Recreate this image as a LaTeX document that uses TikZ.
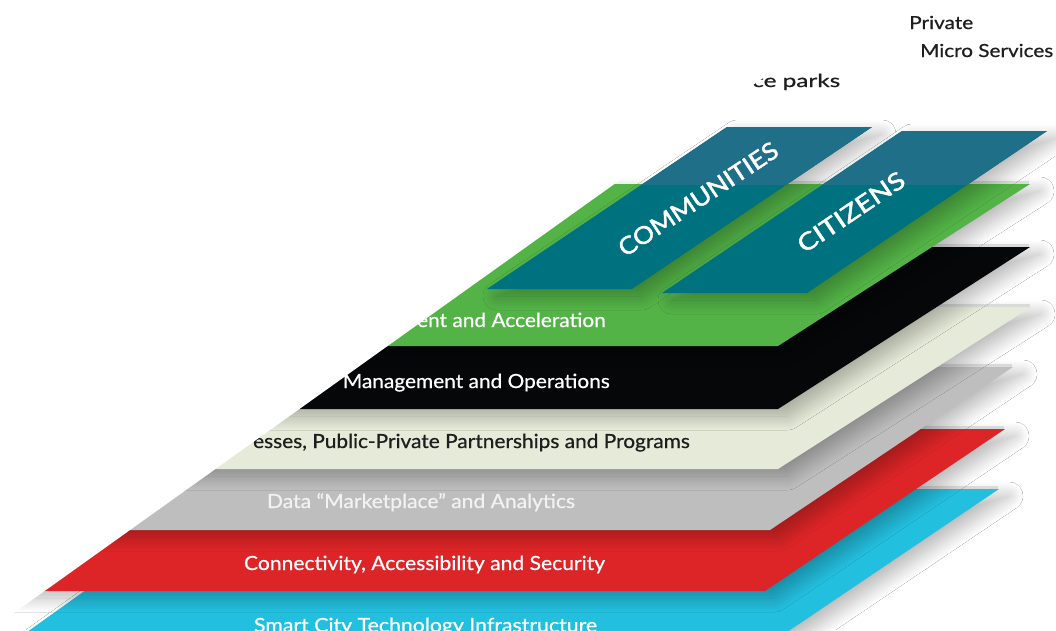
\documentclass[tikz,border=0pt]{standalone}
\usepackage{fontspec}
\usepackage{graphicx}
\setmainfont{Lato}
\newfontfamily\medfont{Lato}[FakeBold=0.6]
\newfontfamily\semifont{Lato}[FakeBold=1.8]
\usetikzlibrary{shadows.blur}
\definecolor{cyanL}{HTML}{23BFDF}
\definecolor{redL}{HTML}{DD2527}
\definecolor{greyL}{HTML}{BEBEBE}
\definecolor{beigeL}{HTML}{E6EAD8}
\definecolor{blackL}{HTML}{060708}
\definecolor{greenL}{HTML}{53B347}
\definecolor{tealA}{HTML}{00717F}
\definecolor{tealB}{HTML}{1E6F87}
\definecolor{inkL}{HTML}{1E1E1E}
\definecolor{rimL}{HTML}{DADADA}
\newcommand\fitw[2]{\resizebox{#1}{\height}{#2}}
\tikzset{
  slab/.style={fill=#1, blur shadow={shadow xshift=10pt, shadow yshift=-7pt, shadow blur radius=14pt, shadow blur steps=20, shadow opacity=28}},
  rimline/.style={draw=rimL, line width=3pt},
  lbl/.style={text=white, font=\medfont\fontsize{19.5}{22}\selectfont, inner sep=0pt},
  plbl/.style={text=white, font=\semifont\fontsize{24}{28}\selectfont, inner sep=0pt},
  toplbl/.style={text=inkL, font=\medfont\fontsize{18}{21}\selectfont, inner sep=0pt, anchor=base west},
}
\begin{document}
\begin{tikzpicture}[x=1pt,y=-1pt]
\useasboundingbox (0,0) rectangle (1056,630);
\fill[white] (0,0) rectangle (1056,630);
% layers, bottom first
\path[slab=cyanL] (227,489) -- (999,489) -- (759,651) -- (0.6,651) -- cycle;
\draw[rimline] (760,487.5) -- (998,487.5);
\path[slab=redL] (105,429) -- (1005,429) -- (765,591) -- (-135,591) -- cycle;
\draw[rimline] (765,427.5) -- (1004,427.5);
\path[slab=greyL] (113,367) -- (1013,367) -- (770,530) -- (-130,530) -- cycle;
\draw[rimline] (775,365.5) -- (1012,365.5);
\path[slab=beigeL] (131,307) -- (1031,307) -- (778,469) -- (-122,469) -- cycle;
\draw[rimline] (780,305.5) -- (1030,305.5);
\path[slab=blackL] (130,247) -- (1030,247) -- (778,409) -- (-122,409) -- cycle;
\draw[rimline] (780,245.5) -- (1029,245.5);
\path[slab=greenL] (130,184) -- (1030,184) -- (778,346) -- (-122,346) -- cycle;
\draw[rimline] (790,182.5) -- (1029,182.5);
% layer labels
\node[lbl, anchor=base east] (tgreen) at (606,327) {\scalebox{1.07}[1]{ent and Acceleration}};
\node[lbl, anchor=base east] (tblack) at (610,388) {\scalebox{1.07}[1]{Management and Operations}};
\node[lbl, anchor=base east, text=inkL] (tbeige) at (690,448) {\scalebox{1.07}[1]{esses, Public-Private Partnerships and Programs}};
\node[lbl, anchor=base, text=white!95!black] (tgrey) at (421,508) {\fitw{308pt}{Data “Marketplace” and Analytics}};
\node[lbl, anchor=base] (tred) at (424.5,570) {\fitw{361pt}{Connectivity, Accessibility and Security}};
\node[lbl, anchor=base] (tcyan) at (425.5,632) {\fitw{343pt}{Smart City Technology Infrastructure}};
% top panels
\path[slab=tealA] (727,127) -- (872,127) -- (632,289) -- (487,289) -- cycle;
\path[slab=tealA] (902,131) -- (1047,131) -- (807,293) -- (662,293) -- cycle;
\begin{scope}
  \clip (0,0) rectangle (1056,184);
  \fill[tealB] (727,127) -- (872,127) -- (632,289) -- (487,289) -- cycle;
  \fill[tealB] (902,131) -- (1047,131) -- (807,293) -- (662,293) -- cycle;
\end{scope}
\node[plbl, rotate=33.5] (tcomm) at (698,199) {\fitw{186pt}{COMMUNITIES}};
\node[plbl, rotate=34] (tcit) at (851,212) {\fitw{124pt}{CITIZENS}};
% top right texts
\node[toplbl] (tpriv) at (909,29) {\fitw{64pt}{Private}};
\node[toplbl] (tmicro) at (920,57) {\fitw{133pt}{Micro Services}};
\node[toplbl] (tparks) at (752,87) {\fitw{88pt}{ce parks}};
% white cover on the upper left
\fill[white] (-30,640) -- (-24,640) -- (886,-10) -- (-30,-10) -- cycle;
\end{tikzpicture}
\end{document}
